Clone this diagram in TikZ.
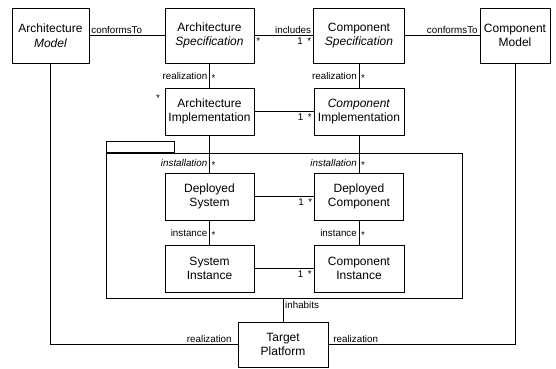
\documentclass[tikz,border=0pt]{standalone}
\usepackage{fontspec}
\setsansfont{Liberation Sans}
\begin{document}
\begin{tikzpicture}[x=1pt, y=-1pt, font=\sffamily,
  box/.style={draw, align=center, minimum width=89pt, minimum height=47pt, inner sep=1pt, font=\sffamily\fontsize{12}{14.5}\selectfont},
  lbl/.style={inner sep=2pt, font=\sffamily\fontsize{9.8}{11}\selectfont},
  star/.style={lbl, anchor=north west, pos=.4}]
\useasboundingbox (0,0) rectangle (556,368);
%models and specifications
\node[box, minimum width=77pt, minimum height=55pt] (amodel) at (50.5,35.5) {Architecture\\\textit{Model}};
\node[box, minimum height=55pt] (aspec) at (209.5,35.5) {Architecture\\\textit{Specification}};
\node[box, minimum width=91pt, minimum height=55pt] (cspec) at (359,35.5) {Component\\\textit{Specification}};
\node[box, minimum width=70pt, minimum height=55pt] (cmodel) at (515,35.5) {Component\\Model};
%implementations
\node[box] (aimpl) at (209.5,111.5) {Architecture\\Implementation};
\node[box, minimum width=90pt] (cimpl) at (359,111.5) {\textit{Component}\\Implementation};
\node[lbl] (astar) at (158,98) {*};
%package
\node[draw, minimum width=356pt, minimum height=145pt, inner sep=0pt] (pkg) at (284,225.5) {};
\node[draw, minimum width=68pt, minimum height=11pt, inner sep=0pt, anchor=south west] (tab) at (pkg.north west) {};
\node[box] (dsys) at (209.5,196.5) {Deployed\\System};
\node[box] (dcomp) at (359,196.5) {Deployed\\Component};
\node[box] (sinst) at (209.5,268.5) {System\\Instance};
\node[box, minimum width=90pt] (cinst) at (359,268.5) {Component\\Instance};
%platform
\node[box, minimum width=90pt, minimum height=45pt] (target) at (283,344.5) {Target\\Platform};
%horizontal links
\draw (amodel) -- node[lbl, pos=0, anchor=south west] {conformsTo} (aspec);
\draw (aspec) -- node[lbl, pos=0, anchor=north west] {*}
  node[lbl, pos=1, anchor=south east] {includes}
  node[lbl, pos=1, anchor=north east] {1 \,*} (cspec);
\draw (cspec) -- node[lbl, pos=1, anchor=south east] {conformsTo} (cmodel);
\draw (aimpl) -- node[lbl, pos=1, anchor=north east] {1 \,*} (cimpl);
\draw (dsys) -- node[lbl, pos=1, anchor=north east] {1 \,*} (dcomp);
\draw (sinst) -- node[lbl, pos=1, anchor=north east] {1 \,*} (cinst);
%vertical links
\draw (aspec) -- node[lbl, left] {realization} node[star] {*} (aimpl);
\draw (cspec) -- node[lbl, left] {realization} node[star] {*} (cimpl);
\draw (aimpl) -- node[lbl, pos=.74, left] {\textit{installation}} node[star, pos=.66] {*} (dsys);
\draw (cimpl) -- node[lbl, pos=.74, left] {\textit{installation}} node[star, pos=.66] {*} (dcomp);
\draw (dsys) -- node[lbl, left] {instance} node[star] {*} (sinst);
\draw (dcomp) -- node[lbl, left] {instance} node[star] {*} (cinst);
\draw (pkg.south -| target) -- node[lbl, pos=.3, right] {inhabits} (target);
%realization of the platform
\draw (amodel) |- node[lbl, pos=1, anchor=south east, xshift=-4pt] {realization} (target);
\draw (cmodel) |- node[lbl, pos=1, anchor=south west, xshift=3pt] {realization} (target);
\end{tikzpicture}
\end{document}
